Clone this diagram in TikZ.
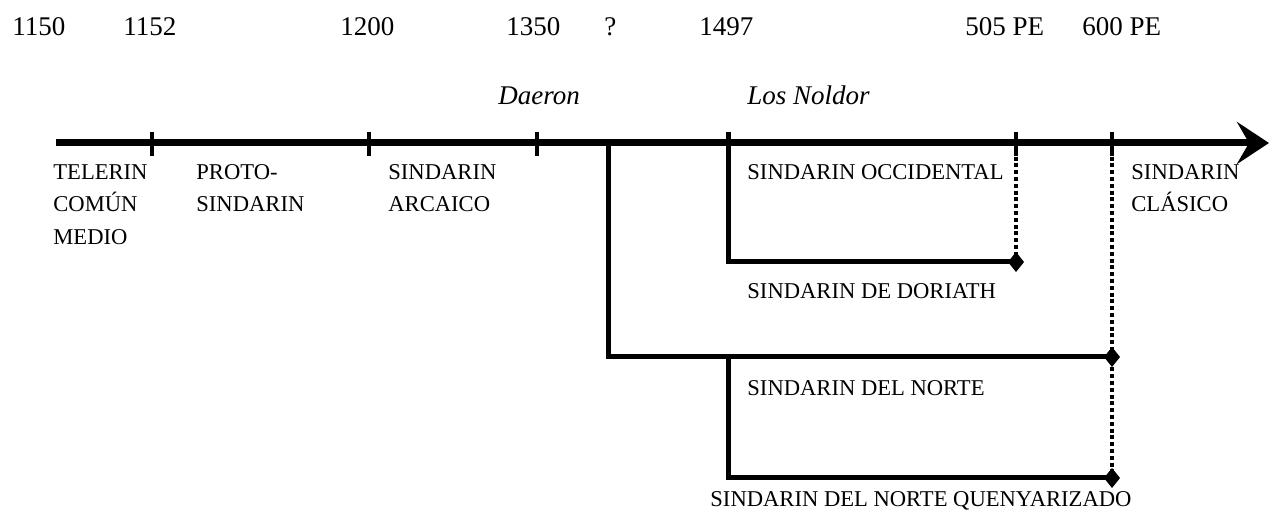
\documentclass[tikz,border=0pt]{standalone}
\usepackage{fontspec}
\setmainfont{Liberation Serif}
\usetikzlibrary{arrows.meta, positioning}

\begin{document}
\begin{tikzpicture}[
        x=0.5pt, y=-0.5pt,
        every node/.style={inner sep=0pt, anchor=base west},
        fecha/.style={font=\fontsize{13.5}{16}\selectfont},
        autor/.style={font=\fontsize{13.5}{16}\selectfont\itshape},
        etapa/.style={font=\fontsize{11.3}{16.25}\selectfont, align=left, anchor=north west},
        eje/.style={line width=3.5pt, -{Stealth[length=16pt, width=21pt, inset=6pt]}},
        marca/.style={line width=1.6pt},
        rama/.style={line width=2.5pt, -{Diamond[length=8pt, width=10pt]}},
        puntos/.style={line width=1.8pt, dash pattern=on 2pt off 1.4pt}
    ]
        \useasboundingbox (0,0) rectangle (1269,517);

        % fechas
        \node[fecha] (f1150) at (12,36) {1150};
        \node[fecha] (f1152) at (123,36) {1152};
        \node[fecha] (f1200) at (340,36) {1200};
        \node[fecha] (f1350) at (506,36) {1350};
        \node[fecha] (fq) at (604,36) {?};
        \node[fecha] (f1497) at (699,36) {1497};
        \node[fecha] (f505) at (965,36) {505 PE};
        \node[fecha] (f600) at (1082,36) {600 PE};

        \node[autor] (daeron) at (498,105) {Daeron};
        \node[autor] (noldor) at (747,105) {Los Noldor};

        % eje
        \coordinate (ini) at (56,143);
        \coordinate (fin) at (1269,143);
        \draw[eje] (ini) -- (fin);

        \foreach \x/\n in {152/a, 369/b, 537/c, 1016/d, 1112/e}
            \draw[marca] (\x,132) coordinate (m\n) -- (\x,156);

        % ramas
        \coordinate (sep) at (608,143);
        \coordinate (nold) at (728,132);
        \coordinate (nrt) at (728,357);
        \coordinate (dor) at (1024,262);
        \coordinate (nor) at (1120,357);
        \coordinate (que) at (1120,478);
        \draw[rama] (nold) |- (dor);
        \draw[rama] (sep) |- (nor);
        \draw[rama] (nrt) |- (que);
        \draw[puntos] (md |- ini) -- (md |- dor);
        \draw[puntos] (me |- ini) -- (me |- que);

        % etapas
        \node[etapa] (tel) at (53,164) {TELERIN\\COMÚN\\MEDIO};
        \node[etapa] (proto) at (196,164) {PROTO-\\SINDARIN};
        \node[etapa] (arc) at (388,164) {SINDARIN\\ARCAICO};
        \node[etapa] (occ) at (747,164) {SINDARIN OCCIDENTAL};
        \node[etapa] (cla) at (1131,164) {SINDARIN\\CLÁSICO};
        \node[etapa] (dorl) at (747,283) {SINDARIN DE DORIATH};
        \node[etapa] (norl) at (747,380) {SINDARIN DEL NORTE};
        \node[etapa] (quel) at (710,491) {SINDARIN DEL NORTE QUENYARIZADO};

    \end{tikzpicture}
\end{document}
